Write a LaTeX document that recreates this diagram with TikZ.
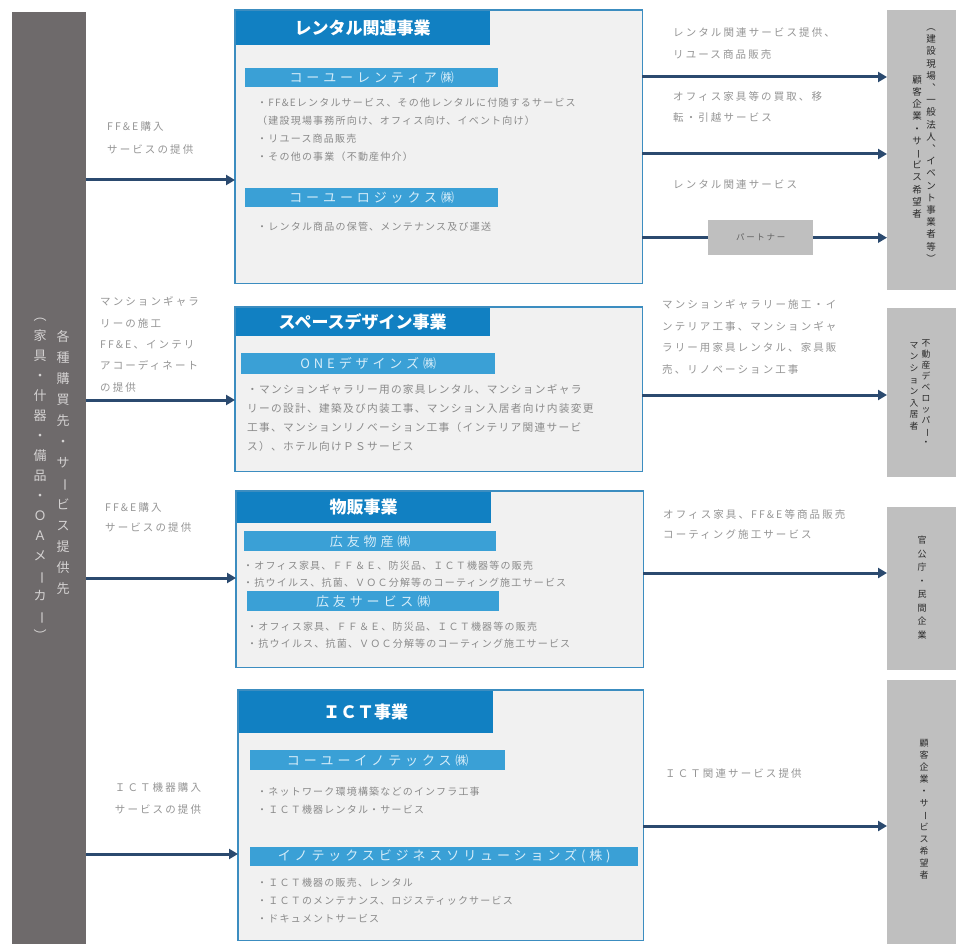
\documentclass[tikz,border=0pt]{standalone}
\usepackage{fontspec}
\setmainfont{Noto Sans CJK JP}
\newfontfamily\jp{Noto Sans CJK JP}
\newfontfamily\jps[LetterSpace=20]{Noto Sans CJK JP}
\newfontfamily\jpt[LetterSpace=12]{Noto Sans CJK JP}
\newfontfamily\jpw[LetterSpace=30]{Noto Sans CJK JP}
\usetikzlibrary{arrows.meta}
\definecolor{barGray}{HTML}{6E6A6B}
\definecolor{rightGray}{HTML}{BFBFBF}
\definecolor{boxFill}{HTML}{F1F1F1}
\definecolor{boxBorder}{HTML}{3C8DC0}
\definecolor{hdrBlue}{HTML}{1180C2}
\definecolor{subBlue}{HTML}{3AA0D6}
\definecolor{subText}{HTML}{D6EDF9}
\definecolor{arrNavy}{HTML}{2B4A6F}
\definecolor{txtGray}{HTML}{8A8A8A}
\definecolor{lblGray}{HTML}{959595}
\definecolor{barText}{HTML}{D4D2D2}
\definecolor{darkText}{HTML}{2A2A2A}
\newcommand\vlong{\rotatebox[origin=c]{-90}{ー}}
\tikzset{
  mainbox/.style={anchor=north west, fill=boxFill, inner sep=0pt, draw=none},
  hdr/.style={anchor=north west, fill=hdrBlue, text=white, inner sep=0pt, font=\fontsize{17}{20}\jp\bfseries},
  subhdr/.style={anchor=north west, fill=subBlue, text=subText, inner sep=0pt, font=\fontsize{13}{15}\jpw},
  body/.style={anchor=north west, inner sep=0pt, align=left, text=txtGray},
  lbl/.style={anchor=north west, inner sep=0pt, align=left, text=lblGray},
  rbox/.style={anchor=north west, fill=rightGray, inner sep=0pt},
  vtxt/.style={anchor=north, inner sep=0pt, align=center},
  arr/.style={draw=arrNavy, line width=3pt, -{Triangle[length=9pt,width=10pt]}},
  plain/.style={draw=arrNavy, line width=3pt},
  border/.style={draw=boxBorder, line width=1.6pt}
}
\begin{document}
\begin{tikzpicture}[x=1pt,y=-1pt]
\fill[white] (0,0) rectangle (956,944);
\useasboundingbox (0,0) rectangle (956,944);

% left bar
\node[anchor=north west, fill=barGray, inner sep=0pt, minimum width=74pt, minimum height=932pt] (bar) at (12,12) {};
\node[vtxt, text=barText, font=\fontsize{13}{21}\jp] (barT1) at (63,330) {各\\種\\購\\買\\先\\・\\サ\\\vlong\\ビ\\ス\\提\\供\\先};
\node[vtxt, text=barText, font=\fontsize{13}{20}\jp] (barT2) at (40,318) {︵\\家\\具\\・\\什\\器\\・\\備\\品\\・\\Ｏ\\Ａ\\メ\\\vlong\\カ\\\vlong\\︶};

% ===== Box A =====
\node[mainbox, minimum width=407pt, minimum height=273pt] (boxA) at (235,10) {};
\node[hdr, minimum width=255pt, minimum height=35pt] (hdrA) at (235,10) {レンタル関連事業};
\draw[border] (boxA.north west) rectangle (boxA.south east);
\node[subhdr, minimum width=253pt, minimum height=19pt] (subA1) at (245,68) {コーユーレンティア㈱};
\node[body, font=\fontsize{10}{18}\jpt] (txA1) at (257,98) {・FF\&Eレンタルサービス、その他レンタルに付随するサービス\\（建設現場事務所向け、オフィス向け、イベント向け）\\・リユース商品販売\\・その他の事業（不動産仲介）};
\node[subhdr, minimum width=253pt, minimum height=19pt] (subA2) at (245,188) {コーユーロジックス㈱};
\node[body, font=\fontsize{10}{18}\jpt] (txA2) at (257,222) {・レンタル商品の保管、メンテナンス及び運送};

% ===== Box B =====
\node[mainbox, minimum width=407pt, minimum height=164pt] (boxB) at (235,307) {};
\node[hdr, minimum width=255pt, minimum height=29pt] (hdrB) at (235,307) {スペースデザイン事業};
\draw[border] (boxB.north west) rectangle (boxB.south east);
\node[subhdr, minimum width=254pt, minimum height=21pt] (subB1) at (241,353) {ONEデザインズ㈱};
\node[body, font=\fontsize{10.7}{19}\jpt] (txB1) at (247,384.6) {・マンションギャラリー用の家具レンタル、マンションギャラ\\リーの設計、建築及び内装工事、マンション入居者向け内装変更\\工事、マンションリノベーション工事（インテリア関連サービ\\ス）、ホテル向けＰＳサービス};

% ===== Box C =====
\node[mainbox, minimum width=407pt, minimum height=176pt] (boxC) at (236,491) {};
\node[hdr, minimum width=255pt, minimum height=32pt] (hdrC) at (236,491) {物販事業};
\draw[border] (boxC.north west) rectangle (boxC.south east);
\node[subhdr, minimum width=252pt, minimum height=20pt] (subC1) at (244,531) {広友物産㈱};
\node[body, font=\fontsize{10}{17}\jpt] (txC1) at (243,561) {・オフィス家具、ＦＦ＆Ｅ、防災品、ＩＣＴ機器等の販売\\・抗ウイルス、抗菌、ＶＯＣ分解等のコーティング施工サービス};
\node[subhdr, minimum width=252pt, minimum height=20pt] (subC2) at (247,591) {広友サービス㈱};
\node[body, font=\fontsize{10}{17}\jpt] (txC2) at (247,622) {・オフィス家具、ＦＦ＆Ｅ、防災品、ＩＣＴ機器等の販売\\・抗ウイルス、抗菌、ＶＯＣ分解等のコーティング施工サービス};

% ===== Box D =====
\node[mainbox, minimum width=405pt, minimum height=250pt] (boxD) at (238,690) {};
\node[hdr, minimum width=255pt, minimum height=43pt] (hdrD) at (238,690) {ＩＣＴ事業};
\draw[border] (boxD.north west) rectangle (boxD.south east);
\node[subhdr, minimum width=255pt, minimum height=20pt] (subD1) at (250,750) {コーユーイノテックス㈱};
\node[body, font=\fontsize{10}{18}\jpt] (txD1) at (257,787) {・ネットワーク環境構築などのインフラ工事\\・ＩＣＴ機器レンタル・サービス};
\node[subhdr, minimum width=388pt, minimum height=19pt] (subD2) at (250,847) {イノテックスビジネスソリューションズ(株)};
\node[body, font=\fontsize{10}{18}\jpt] (txD2) at (257,878) {・ＩＣＴ機器の販売、レンタル\\・ＩＣＴのメンテナンス、ロジスティックサービス\\・ドキュメントサービス};

% ===== right boxes =====
\node[rbox, minimum width=69pt, minimum height=280pt] (R1) at (887,10) {};
\node[rbox, minimum width=69pt, minimum height=169pt] (R2) at (887,308) {};
\node[rbox, minimum width=69pt, minimum height=163pt] (R3) at (887,507) {};
\node[rbox, minimum width=69pt, minimum height=264pt] (R4) at (887,680) {};
\node[vtxt, text=darkText, font=\fontsize{9.5}{12.2}\jp] (R1a) at (931,28.5) {︵\\建\\設\\現\\場\\︑\\一\\般\\法\\人\\︑\\イ\\ベ\\ン\\ト\\事\\業\\者\\等\\︶};
\node[vtxt, text=darkText, font=\fontsize{9.5}{12.2}\jp] (R1b) at (917,75.5) {顧\\客\\企\\業\\・\\サ\\\vlong\\ビ\\ス\\希\\望\\者};
\node[vtxt, text=darkText, font=\fontsize{8.8}{11}\jp] (R2a) at (926,340) {不\\動\\産\\デ\\ベ\\ロ\\ッ\\パ\\\vlong\\・};
\node[vtxt, text=darkText, font=\fontsize{8.8}{11.6}\jp] (R2b) at (914,342) {マ\\ン\\シ\\ョ\\ン\\入\\居\\者};
\node[vtxt, text=darkText, font=\fontsize{9}{13.5}\jp] (R3a) at (922,536) {官\\公\\庁\\・\\民\\間\\企\\業};
\node[vtxt, text=darkText, font=\fontsize{9}{12}\jp] (R4a) at (924,739) {顧\\客\\企\\業\\・\\サ\\\vlong\\ビ\\ス\\希\\望\\者};

% partner
\node[rbox, minimum width=105pt, minimum height=35pt, text=darkText!75, font=\fontsize{8.5}{10}\jps] (partner) at (708,220) {パートナー};

% ===== left labels =====
\node[lbl, font=\fontsize{10.5}{23}\jps] (LA) at (107,121.8) {FF\&E購入\\サービスの提供};
\node[lbl, font=\fontsize{10.5}{21.3}\jps] (LB) at (100,296.8) {マンションギャラ\\リーの施工\\FF\&E、インテリ\\アコーディネート\\の提供};
\node[lbl, font=\fontsize{10.5}{20}\jps] (LC) at (105,502.8) {FF\&E購入\\サービスの提供};
\node[lbl, anchor=north, align=center, font=\fontsize{10.5}{22}\jps] (LD) at (158,782.8) {ＩＣＴ機器購入\\サービスの提供};

% ===== right labels =====
\node[lbl, font=\fontsize{10.5}{22}\jps] (RA1) at (673,27.8) {レンタル関連サービス提供、\\リユース商品販売};
\node[lbl, font=\fontsize{10.5}{21}\jps] (RA2) at (673,91.8) {オフィス家具等の買取、移\\転・引越サービス};
\node[lbl, font=\fontsize{10.5}{21}\jps] (RA3) at (673,179.8) {レンタル関連サービス};
\node[lbl, font=\fontsize{10.5}{21.5}\jps] (RB) at (662,299.8) {マンションギャラリー施工・イ\\ンテリア工事、マンションギャ\\ラリー用家具レンタル、家具販\\売、リノベーション工事};
\node[lbl, font=\fontsize{10.5}{20}\jps] (RC) at (663,509.8) {オフィス家具、FF\&E等商品販売\\コーティング施工サービス};
\node[lbl, font=\fontsize{10.5}{21}\jps] (RD) at (665,768.8) {ＩＣＴ関連サービス提供};

% ===== arrows =====
\draw[arr] (bar.east |- 0,180) -- (boxA.west |- 0,180);
\draw[arr] (bar.east |- 0,400) -- (boxB.west |- 0,400);
\draw[arr] (bar.east |- 0,578) -- (boxC.west |- 0,578);
\draw[arr] (bar.east |- 0,854) -- (boxD.west |- 0,854);

\draw[arr] (boxA.east |- 0,77) -- (R1.west |- 0,77);
\draw[arr] (boxA.east |- 0,154) -- (R1.west |- 0,154);
\draw[plain] (boxA.east |- partner.west) -- (partner.west);
\draw[arr] (partner.east) -- (R1.west |- partner.east);
\draw[arr] (boxB.east |- 0,395) -- (R2.west |- 0,395);
\draw[arr] (boxC.east |- 0,573) -- (R3.west |- 0,573);
\draw[arr] (boxD.east |- 0,826) -- (R4.west |- 0,826);
\end{tikzpicture}
\end{document}
